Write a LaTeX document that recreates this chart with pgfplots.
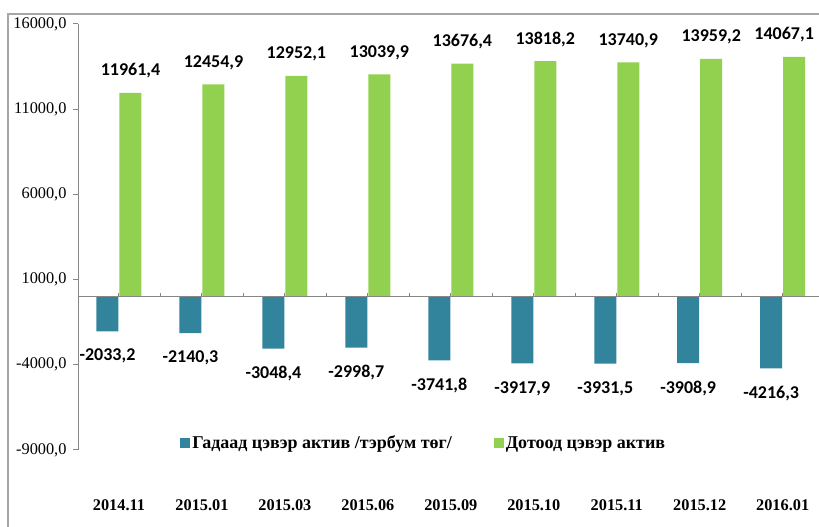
\documentclass[border=0pt]{standalone}
\usepackage{fontspec}
\setmainfont{Liberation Serif}
\newfontfamily\calib{Carlito}
\usepackage{pgfplots}
\pgfplotsset{compat=1.18}
\definecolor{bblue}{HTML}{31849B}
\definecolor{bgreen}{HTML}{92D050}
\definecolor{framegray}{HTML}{A6A6A6}
\definecolor{axgray}{HTML}{868686}
\begin{document}
\begin{tikzpicture}
\useasboundingbox (0,0) rectangle (819pt,527pt);
\clip (0,0) rectangle (819pt,527pt);
\draw[framegray, line width=1.5pt] (8pt,-5pt) -- (8pt,513pt) -- (830pt,513pt);
\begin{axis}[
  at={(78pt,77pt)}, anchor=south west,
  scale only axis, width=742pt, height=426pt,
  xmin=-0.494, xmax=8.45, ymin=-9000, ymax=16000,
  ybar, bar width=22pt,
  axis lines*=left,
  x axis line style={draw=none},
  y axis line style={axgray, line width=1pt},
  xtick={0,...,8},
  xticklabels={2014.11,2015.01,2015.03,2015.06,2015.09,2015.10,2015.11,2015.12,2016.01},
  xtick style={draw=none},
  ytick={-9000,-4000,1000,6000,11000,16000},
  scaled y ticks=false,
  ytick style={axgray, line width=1pt},
  tick align=outside, major tick length=5pt,
  /pgf/number format/fixed,
  /pgf/number format/fixed zerofill,
  /pgf/number format/precision=1,
  /pgf/number format/use comma,
  /pgf/number format/1000 sep={},
  /pgf/number format/assume math mode=true,
  yticklabel style={font=\fontsize{16.3}{19}\selectfont, text=black, xshift=-3pt},
  xticklabel style={font=\bfseries\fontsize{16.3}{19}\selectfont, anchor=center, yshift=-50pt, text=black},
  legend style={at={(0.466,0.016)}, anchor=center, draw=none, fill=none,
    font=\bfseries\fontsize{18}{21}\selectfont, legend columns=2,
    /tikz/every even column/.append style={column sep=40pt}},
  legend image code/.code={\fill[#1] (0pt,-5pt) rectangle (10pt,5pt);},
]
\addplot[fill=bblue, draw=none, bar shift=-11.5pt, nodes near coords,
  every node near coord/.append style={anchor=center, yshift=-25pt, inner sep=0pt,
  font=\calib\bfseries\fontsize{18}{21}\selectfont, text=black}]
  coordinates {(0,-2033.2) (1,-2140.3) (2,-3048.4) (3,-2998.7) (4,-3741.8) (5,-3917.9) (6,-3931.5) (7,-3908.9) (8,-4216.3)};
\addlegendentry{Гадаад цэвэр актив /тэрбум төг/}
\addplot[fill=bgreen, draw=none, bar shift=11.5pt, nodes near coords,
  coordinate style/.condition={x==8}{xshift=-10pt},
  every node near coord/.append style={anchor=center, yshift=22pt, inner sep=0pt,
  font=\calib\bfseries\fontsize{18}{21}\selectfont, text=black}]
  coordinates {(0,11961.4) (1,12454.9) (2,12952.1) (3,13039.9) (4,13676.4) (5,13818.2) (6,13740.9) (7,13959.2) (8,14067.1)};
\addlegendentry{Дотоод цэвэр актив}
\end{axis}
\begin{axis}[
  at={(78pt,77pt)}, anchor=south west,
  scale only axis, width=742pt, height=426pt,
  xmin=-0.494, xmax=8.45, ymin=-9000, ymax=16000,
  axis x line=middle, axis y line=none,
  x axis line style={axgray, line width=1pt, -},
  xtick={-0.5,0,...,8.5},
  xticklabels={},
  xtick style={axgray, line width=1pt},
  tick align=inside, major tick length=4pt,
]
\end{axis}
\end{tikzpicture}
\end{document}
